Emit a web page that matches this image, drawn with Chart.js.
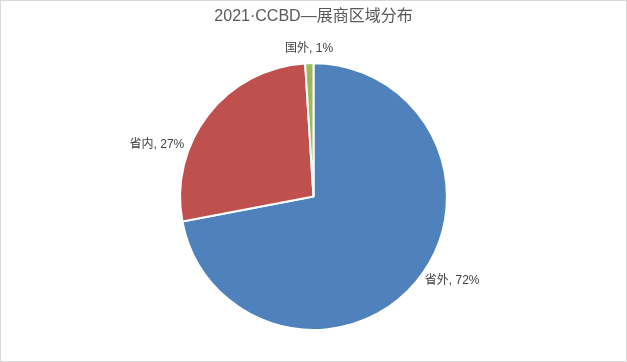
<!DOCTYPE html>
<html>
<head>
<meta charset="utf-8">
<script src="https://cdn.jsdelivr.net/npm/chart.js@4.4.0/dist/chart.umd.min.js"></script>
<style>
  html, body { margin: 0; padding: 0; background: #fff; }
  #wrap { width: 627px; height: 362px; position: relative; }
</style>
</head>
<body>
<div id="wrap"><canvas id="pieChart"></canvas></div>
<script>
// chart data
const regions = ['省外', '省内', '国外'];
const shares = [72, 27, 1];
const sliceColors = ['#4F81BD', '#C0504D', '#9BBB59'];

const fontFamily = '"Liberation Sans", Arial, "Noto Sans CJK SC", sans-serif';

// white background + thin grey frame like the office chart box
const frame = {
  id: 'frame',
  beforeDraw(chart) {
    const c = chart.ctx;
    c.save();
    c.fillStyle = '#ffffff';
    c.fillRect(0, 0, chart.width, chart.height);
    c.strokeStyle = '#d9d9d9';
    c.lineWidth = 1;
    c.strokeRect(0.5, 0.5, chart.width - 1, chart.height - 1);
    c.restore();
  }
};

// "name, value%" labels drawn just outside the pie
const outsideLabels = {
  id: 'outsideLabels',
  afterDatasetsDraw(chart, args, opts) {
    const c = chart.ctx;
    const meta = chart.getDatasetMeta(0);
    c.save();
    c.font = '12px ' + fontFamily;
    c.fillStyle = '#404040';
    c.textBaseline = 'middle';
    meta.data.forEach(function(arc, i) {
      const p = arc.getProps(['x', 'y', 'startAngle', 'endAngle', 'outerRadius'], true);
      let ang = (p.startAngle + p.endAngle) / 2;
      // best-fit tweak, degrees clockwise from 12 o'clock
      if (opts.angleOverride && opts.angleOverride[i] != null) {
        ang = (opts.angleOverride[i] - 90) * Math.PI / 180;
      }
      const r = p.outerRadius + 6;
      let x = p.x + Math.cos(ang) * r;
      let y = p.y + Math.sin(ang) * r;
      const text = regions[i] + ', ' + shares[i] + '%';
      const cx = Math.cos(ang);
      if (Math.abs(cx) < 0.2) {
        c.textAlign = 'center';
        y += Math.sin(ang) * 9;
      } else if (cx > 0) {
        c.textAlign = 'left';
      } else {
        c.textAlign = 'right';
      }
      c.fillText(text, x, y);
    });
    c.restore();
  }
};

var ctx = document.getElementById('pieChart');

var pieChart = new Chart(ctx, {
  type: 'pie',
  data: {
    labels: regions,
    datasets: [{
      data: shares,
      backgroundColor: sliceColors,
      borderColor: '#ffffff',
      borderWidth: 2
    }]
  },
  options: {
    responsive: true,
    maintainAspectRatio: false,
    animation: false,
    layout: {
      padding: { top: 0, bottom: 31, left: 0, right: 0 }
    },
    plugins: {
      legend: { display: false },
      tooltip: { enabled: false },
      title: {
        display: true,
        text: '2021·CCBD—展商区域分布',
        color: '#595959',
        font: { family: fontFamily, size: 16, weight: 'normal' },
        padding: { top: 7, bottom: 36 }
      },
      outsideLabels: {
        angleOverride: [127, 292, null]
      }
    }
  },
  plugins: [frame, outsideLabels]
});
</script>
</body>
</html>
